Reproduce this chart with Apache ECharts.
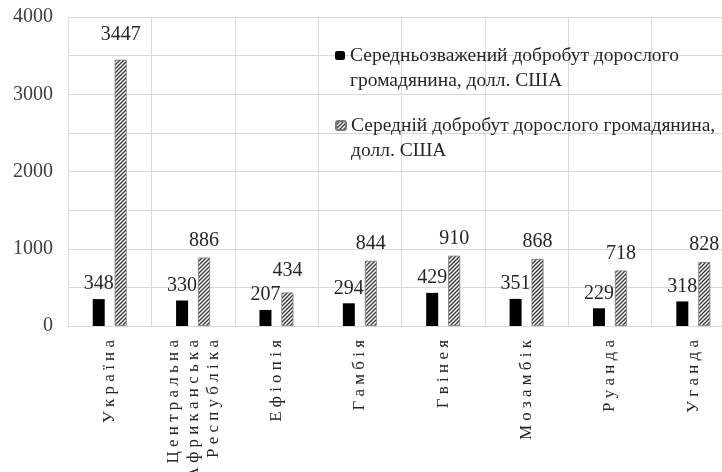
<!DOCTYPE html>
<html>
<head>
<meta charset="utf-8">
<script src="https://cdn.jsdelivr.net/npm/echarts@6/dist/echarts.min.js"></script>
<style>
  html, body { margin: 0; padding: 0; background: #fff; }
  #chart { width: 722px; height: 472px; }
</style>
</head>
<body>
<div id="chart"></div>
<script>
const categories = ["Україна", "Центральна Африканська Республіка", "Ефіопія", "Гамбія", "Гвінея", "Мозамбік", "Руанда", "Уганда"];
const weightedWealth = [348, 330, 207, 294, 429, 351, 229, 318];
const averageWealth = [3447, 886, 434, 844, 910, 868, 718, 828];
const seriesNames = [
  "Середньозважений добробут дорослого громадянина, долл. США",
  "Середній добробут дорослого громадянина, долл. США",
];
const yTicks = [0, 1000, 2000, 3000, 4000];

const FONT = "Liberation Serif";

// diagonal hatch for the second series
function hatch() {
  const c = document.createElement("canvas");
  c.width = 4;
  c.height = 4;
  const ctx = c.getContext("2d");
  ctx.fillStyle = "#fff";
  ctx.fillRect(0, 0, 4, 4);
  ctx.strokeStyle = "#3a3a3a";
  ctx.lineWidth = 1.4;
  ctx.beginPath();
  ctx.moveTo(0, 4);
  ctx.lineTo(4, 0);
  ctx.moveTo(-1, 1);
  ctx.lineTo(1, -1);
  ctx.moveTo(3, 5);
  ctx.lineTo(5, 3);
  ctx.stroke();
  return { image: c, repeat: "repeat" };
}

// spread letters a bit and break multi-word names into lines
function spaced(name) {
  return name
    .split(" ")
    .map((w) => w.split("").join("\u00a0"))
    .join("\n");
}

// a few labels sit a little higher in the picture
const extraLift = { 0: 8, 2: 5 };

const legendText = { fontFamily: FONT, fontSize: 19.5, color: "#262626", lineHeight: 25 };

const chart = echarts.init(document.getElementById("chart"));
const option = {
  animation: false,
  backgroundColor: "#fff",
  textStyle: { fontFamily: FONT },
  grid: { left: 68, top: 17, width: 667, height: 309, containLabel: false, outerBoundsMode: "none" },
  legend: [
    {
      data: [seriesNames[0]],
      left: 330,
      top: 13,
      itemWidth: 10,
      itemHeight: 9,
      itemGap: 4,
      formatter: () => "\nСередньозважений добробут дорослого\nгромадянина, долл. США",
      textStyle: legendText,
    },
    {
      data: [seriesNames[1]],
      left: 330,
      top: 83,
      itemWidth: 10,
      itemHeight: 9,
      itemGap: 4,
      formatter: () => "\nСередній добробут дорослого громадянина,\nдолл. США",
      textStyle: legendText,
    },
  ],
  xAxis: {
    type: "category",
    data: categories,
    axisLine: { lineStyle: { color: "#d9d9d9", width: 1 } },
    axisTick: { show: false },
    splitLine: { show: true, lineStyle: { color: "#d9d9d9", width: 1 } },
    axisLabel: {
      rotate: 90,
      interval: 0,
      margin: 14,
      fontFamily: FONT,
      fontSize: 17,
      color: "#262626",
      lineHeight: 20,
      formatter: spaced,
    },
  },
  yAxis: {
    type: "value",
    min: 0,
    max: 4000,
    interval: 500,
    axisLine: { show: false },
    axisTick: { show: false },
    splitLine: { lineStyle: { color: "#d9d9d9", width: 1 } },
    axisLabel: {
      margin: 15,
      fontFamily: FONT,
      fontSize: 20,
      color: "#404040",
      formatter: (v) => (yTicks.includes(v) ? String(v) : ""),
    },
  },
  series: [
    {
      name: seriesNames[0],
      type: "bar",
      data: weightedWealth,
      barWidth: 12,
      barGap: "83%",
      itemStyle: { color: "#000" },
      label: {
        show: true,
        position: "top",
        distance: 5,
        fontFamily: FONT,
        fontSize: 20,
        color: "#262626",
      },
    },
    {
      name: seriesNames[1],
      type: "bar",
      data: averageWealth.map((v, i) => ({
        value: v,
        label: { distance: 7 + (extraLift[i] || 0) },
      })),
      barWidth: 12,
      itemStyle: { color: hatch(), borderColor: "#7a7a7a", borderWidth: 0.8 },
      label: {
        show: true,
        position: "top",
        distance: 7,
        fontFamily: FONT,
        fontSize: 20,
        color: "#262626",
      },
    },
  ],
};
chart.setOption(option);
</script>
</body>
</html>
